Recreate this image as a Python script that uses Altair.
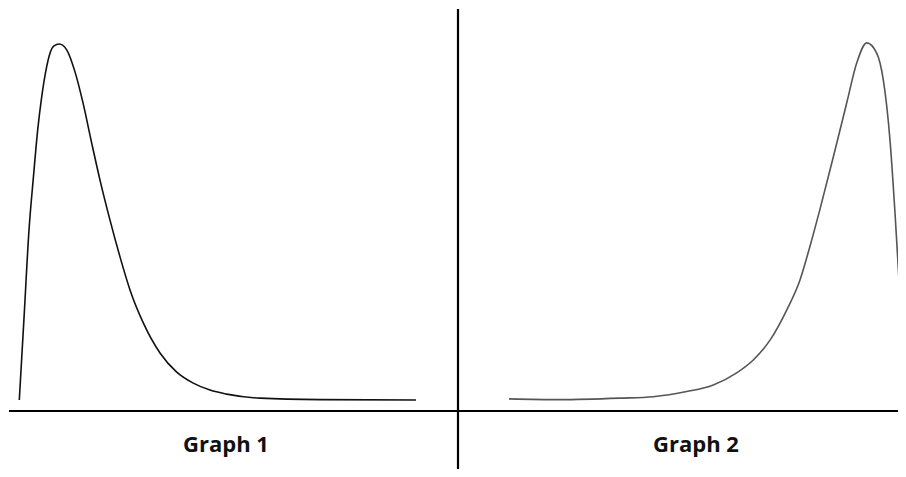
import altair as alt
import pandas as pd

# Graph 1: right-skewed curve (x, height)
g1_x = [1.93, 2.40, 2.90, 3.35, 3.77, 4.17, 4.60, 5.00, 5.40, 5.93, 6.67, 7.50, 8.33, 9.17, 10.00,
        11.00, 12.00, 13.00, 14.33, 16.00, 17.67, 19.33, 21.00, 22.67, 26.00, 32.00, 41.60]
g1_y = [0.030, 0.253, 0.493, 0.640, 0.766, 0.856, 0.929, 0.975, 0.995, 1.000, 0.984, 0.924, 0.836, 0.730, 0.629,
        0.520, 0.420, 0.330, 0.240, 0.158, 0.106, 0.076, 0.057, 0.046, 0.035, 0.031, 0.030]

# Graph 2: left-skewed curve (x, height)
g2_x = [50.9, 56.0, 62.0, 65.33, 68.67, 71.33, 73.67, 75.33, 77.00, 78.67, 80.00, 81.00, 82.00,
        83.33, 84.67, 85.67, 86.67, 87.67, 88.33, 89.00, 89.50, 90.00, 90.33, 90.60]
g2_y = [0.033, 0.031, 0.035, 0.039, 0.053, 0.071, 0.104, 0.139, 0.193, 0.275, 0.357, 0.449, 0.550,
        0.692, 0.839, 0.948, 1.003, 0.975, 0.902, 0.738, 0.540, 0.311, 0.131, 0.011]

labels = ["Graph 1", "Graph 2"]
label_x = [22.6, 69.6]
label_y = [-0.112, -0.112]

# axis lines
hline = {"x": 0.9, "x2": 90.6, "y": 0.0}
vline = {"x": 45.8, "y": 1.095, "y2": -0.25}

X_DOMAIN = [0.8, 89.8]
Y_DOMAIN = [-0.158, 1.098]

xs = alt.Scale(domain=X_DOMAIN, nice=False, zero=False)
ys = alt.Scale(domain=Y_DOMAIN, nice=False, zero=False)

df1 = pd.DataFrame({"x": g1_x, "y": g1_y})
df2 = pd.DataFrame({"x": g2_x, "y": g2_y})
dlab = pd.DataFrame({"label": labels, "x": label_x, "y": label_y})

c1 = alt.Chart(df1).mark_line(color="#111111", strokeWidth=1.6, interpolate="monotone").encode(
    x=alt.X("x:Q", scale=xs, axis=None),
    y=alt.Y("y:Q", scale=ys, axis=None),
)
c2 = alt.Chart(df2).mark_line(color="#555555", strokeWidth=1.6, interpolate="monotone").encode(
    x=alt.X("x:Q", scale=xs, axis=None),
    y=alt.Y("y:Q", scale=ys, axis=None),
)
h = alt.Chart(pd.DataFrame([hline])).mark_rule(color="#000000", strokeWidth=2.2).encode(
    x=alt.X("x:Q", scale=xs, axis=None), x2="x2:Q",
    y=alt.Y("y:Q", scale=ys, axis=None),
)
v = alt.Chart(pd.DataFrame([vline])).mark_rule(color="#000000", strokeWidth=2.2).encode(
    x=alt.X("x:Q", scale=xs, axis=None),
    y=alt.Y("y:Q", scale=ys, axis=None), y2="y2:Q",
)
t = alt.Chart(dlab).mark_text(font="Open Sans", fontWeight="bold", fontSize=22,
                              color="#111111", align="center", baseline="alphabetic").encode(
    x=alt.X("x:Q", scale=xs, axis=None),
    y=alt.Y("y:Q", scale=ys, axis=None),
    text="label:N",
)

chart = alt.layer(h, v, c1, c2, t).properties(
    width=890, height=461, padding=0,
    autosize=alt.AutoSizeParams(type="none"),
    background="#ffffff",
).configure_view(stroke=None)

chart.save("out.html", embed_options={"renderer": "svg", "actions": False})
